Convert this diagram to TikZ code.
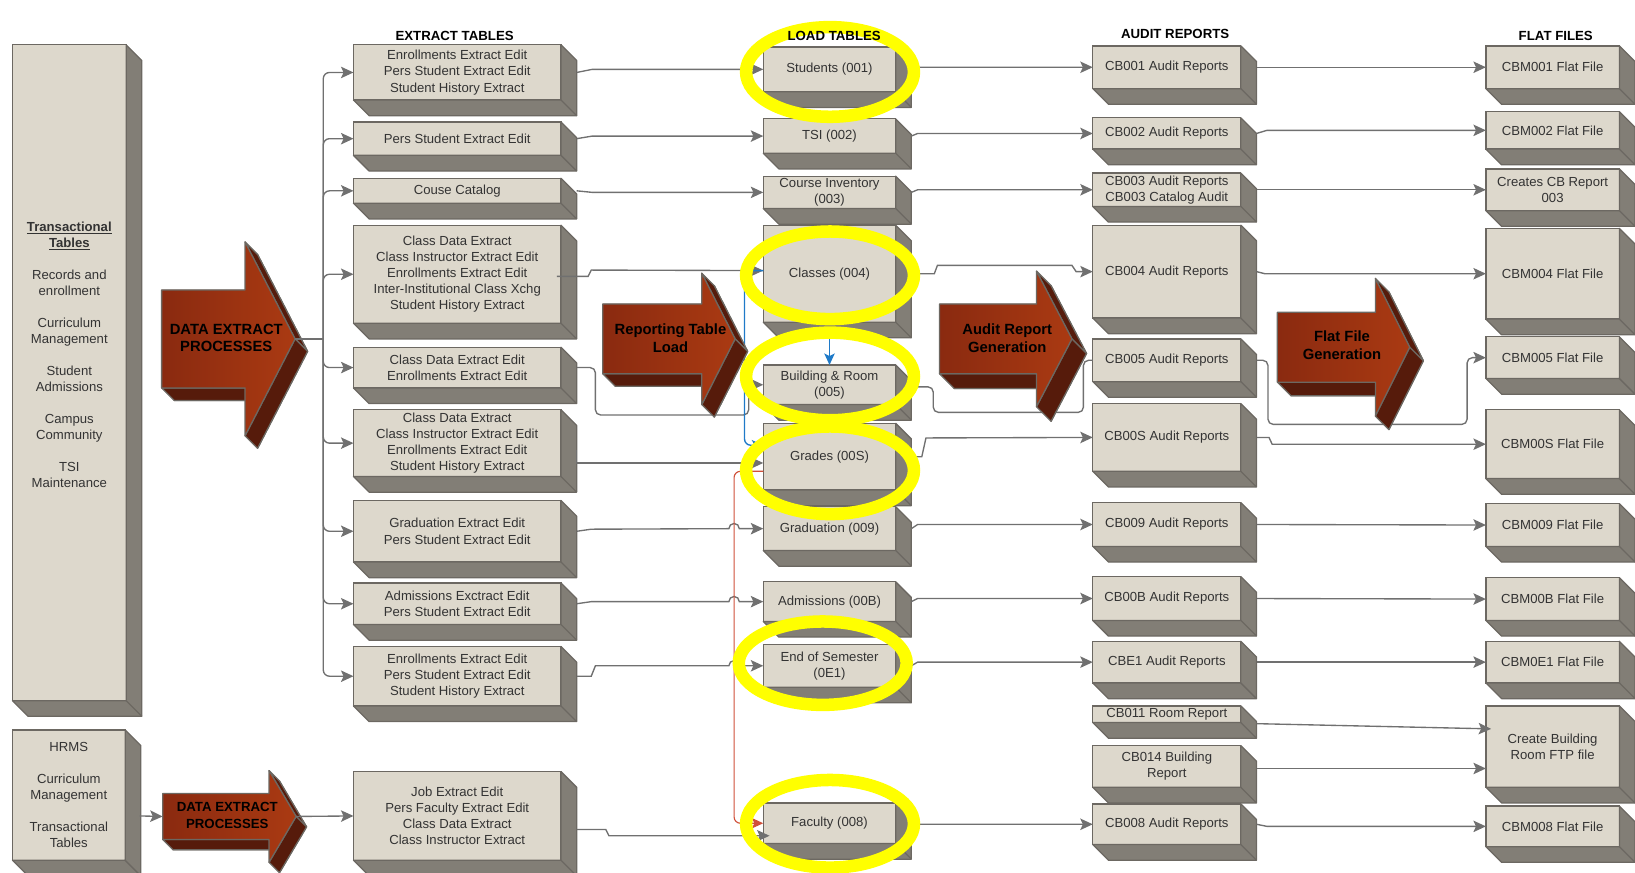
\documentclass[tikz,border=0pt]{standalone}
\usepackage{fontspec}
\setmainfont{Liberation Sans}
\usetikzlibrary{arrows.meta}
\definecolor{boxfront}{HTML}{DDD8CC}
\definecolor{boxside}{HTML}{827E76}
\definecolor{boxline}{HTML}{6C6862}
\definecolor{flowgray}{HTML}{707070}
\definecolor{flowred}{HTML}{D0503A}
\definecolor{flowblue}{HTML}{1F7AC8}
\definecolor{arrowdark}{HTML}{8A2A10}
\definecolor{arrowlight}{HTML}{AA3A12}
\definecolor{arrowside}{HTML}{561B0B}
\definecolor{ringyellow}{HTML}{FFFF00}
\newcommand{\boxfont}{\fontsize{12.6}{15.5}\selectfont}

\tikzset{
  tbl/.style={draw=boxline, fill=boxfront, line width=1.2pt, anchor=north west, outer sep=0pt, inner sep=1pt, align=center, text=black!80, font=\boxfont},
  tblside/.style={draw=boxline, fill=boxside, line width=1.2pt, line join=round},
  flow/.style={draw=flowgray, line width=1.3pt, -{Stealth[length=12pt,width=11pt,inset=2.5pt]}},
  flowplain/.style={draw=flowgray, line width=1.3pt},
  redflow/.style={draw=flowred, line width=1.1pt, -{Stealth[length=11pt,width=10pt,inset=2.5pt]}},
  blueflow/.style={draw=flowblue, line width=1.3pt, -{Stealth[length=11pt,width=10pt,inset=2.5pt]}},
  bigfront/.style={left color=arrowdark, right color=arrowlight, draw=boxline, line width=1.2pt, line join=round},
  bigside/.style={fill=arrowside, draw=boxline, line width=1.2pt, line join=round},
  bigtext/.style={font={\fontsize{14.2}{17}\selectfont\bfseries}, align=center},
  header/.style={font={\fontsize{12.7}{14}\selectfont\bfseries}},
  ring/.style={draw=ringyellow, line width=12pt}
}

\begin{document}
\begin{tikzpicture}[x=1pt, y=1pt]
\newcommand{\boxdepth}{15}
\newcommand{\tablebox}[6]{%
  \node[tbl, minimum width=#4pt, minimum height=#5pt] (#1) at (#2,#3) {#6};
  \filldraw[tblside] (#1.north east) -- ++(\boxdepth,-\boxdepth) -- ([shift={(\boxdepth,-\boxdepth)}]#1.south east) -- ([shift={(\boxdepth,-\boxdepth)}]#1.south west) -- (#1.south west) -- (#1.south east) -- cycle;
  \draw[tblside] (#1.south east) -- ++(\boxdepth,-\boxdepth);
}
\newcommand{\procarrow}[8]{%
  \begin{scope}[shift={(#2,#3)}]
    \coordinate (#1-in) at (0,0);
    \coordinate (#1-tip) at (#4+#6,0);
    \begin{scope}[shift={(#8,-#8)}]
      \filldraw[bigside] (0,#5) -- (#4,#5) -- (#4,#7) -- (#4+#6,0) -- (#4,-#7) -- (#4,-#5) -- (0,-#5) -- cycle;
    \end{scope}
    \filldraw[bigside] (0,-#5) -- (#4,-#5) -- (#4+#8,-#5-#8) -- (#8,-#5-#8) -- cycle;
    \filldraw[bigside] (#4,#7) -- (#4+#6,0) -- (#4+#6+#8,-#8) -- (#4+#8,#7-#8) -- cycle;
    \filldraw[bigside] (#4+#6,0) -- (#4,-#7) -- (#4+#8,-#7-#8) -- (#4+#6+#8,-#8) -- cycle;
    \filldraw[bigfront] (0,#5) -- (#4,#5) -- (#4,#7) -- (#4+#6,0) -- (#4,-#7) -- (#4,-#5) -- (0,-#5) -- cycle;
  \end{scope}
}
\useasboundingbox (0,0) rectangle (1568,-837);

% sources
\tablebox{src}{12}{-43}{109}{629}{}
\node[align=center, font=\boxfont, text=black!80] (srctext) at (66.5,-340) {\textbf{\underline{Transactional}}\\\textbf{\underline{Tables}}\\[15pt]Records and\\enrollment\\[15pt]Curriculum\\Management\\[15pt]Student\\Admissions\\[15pt]Campus\\Community\\[15pt]TSI\\Maintenance};
\tablebox{hrms}{12}{-700}{108}{125}{HRMS\\[15pt]Curriculum\\Management\\[15pt]Transactional\\Tables}

% extract tables
\tablebox{e1}{339}{-43}{199}{53}{Enrollments Extract Edit\\Pers Student Extract Edit\\Student History Extract}
\tablebox{e2}{339}{-117}{199}{32}{Pers Student Extract Edit}
\tablebox{e3}{339}{-171}{199}{24}{Couse Catalog}
\tablebox{e4}{339}{-216}{199}{94}{Class Data Extract\\Class Instructor Extract Edit\\Enrollments Extract Edit\\Inter-Institutional Class Xchg\\Student History Extract}
\tablebox{e5}{339}{-333}{199}{39}{Class Data Extract Edit\\Enrollments Extract Edit}
\tablebox{e6}{339}{-393}{199}{64}{Class Data Extract\\Class Instructor Extract Edit\\Enrollments Extract Edit\\Student History Extract}
\tablebox{e7}{339}{-480}{199}{59}{Graduation Extract Edit\\Pers Student Extract Edit}
\tablebox{e8}{339}{-559}{199}{40}{Admissions Exctract Edit\\Pers Student Extract Edit}
\tablebox{e9}{339}{-620}{199}{57}{Enrollments Extract Edit\\Pers Student Extract Edit\\Student History Extract}
\tablebox{e10}{339}{-740}{199}{85}{Job Extract Edit\\Pers Faculty Extract Edit\\Class Data Extract\\Class Instructor Extract}

% load tables
\tablebox{l1}{732}{-45}{127}{43}{Students (001)}
\tablebox{l2}{732}{-114}{127}{33}{TSI (002)}
\tablebox{l3}{732}{-169}{127}{31}{Course Inventory\\(003)}
\tablebox{l4}{732}{-216}{127}{93}{Classes (004)}
\tablebox{l5}{732}{-350}{127}{38}{Building \& Room\\(005)}
\tablebox{l7}{732}{-486}{127}{42}{Graduation (009)}
\tablebox{l6}{732}{-406}{127}{64}{Grades (00S)}
\tablebox{l8}{732}{-558}{127}{38}{Admissions (00B)}
\tablebox{l9}{732}{-618}{127}{41}{End of Semester\\(0E1)}
\tablebox{l10}{732}{-770}{127}{39}{Faculty (008)}

% audit reports
\tablebox{a1}{1048}{-44}{142}{41}{CB001 Audit Reports}
\tablebox{a2}{1048}{-113}{142}{30}{CB002 Audit Reports}
\tablebox{a3}{1048}{-166}{142}{32}{CB003 Audit Reports\\CB003 Catalog Audit}
\tablebox{a4}{1048}{-216}{142}{89}{CB004 Audit Reports}
\tablebox{a5}{1048}{-325}{142}{41}{CB005 Audit Reports}
\tablebox{a6}{1048}{-387}{142}{65}{CB00S Audit Reports}
\tablebox{a7}{1048}{-482}{142}{42}{CB009 Audit Reports}
\tablebox{a8}{1048}{-553}{142}{42}{CB00B Audit Reports}
\tablebox{a9}{1048}{-615}{142}{40}{CBE1 Audit Reports}
\tablebox{a10}{1048}{-677}{142}{16}{CB011 Room Report}
\tablebox{a11}{1048}{-715}{142}{40}{CB014 Building\\Report}
\tablebox{a12}{1048}{-771}{142}{39}{CB008 Audit Reports}

% flat files
\tablebox{f1}{1425}{-44}{128}{41}{CBM001 Flat File}
\tablebox{f2}{1425}{-107}{128}{36}{CBM002 Flat File}
\tablebox{f3}{1425}{-162}{128}{40}{Creates CB Report\\003}
\tablebox{f4}{1425}{-219}{128}{87}{CBM004 Flat File}
\tablebox{f5}{1425}{-323}{128}{40}{CBM005 Flat File}
\tablebox{f6}{1425}{-393}{128}{66}{CBM00S Flat File}
\tablebox{f7}{1425}{-483}{128}{41}{CBM009 Flat File}
\tablebox{f8}{1425}{-554}{128}{41}{CBM00B Flat File}
\tablebox{f9}{1425}{-615}{128}{40}{CBM0E1 Flat File}
\tablebox{f10}{1425}{-677}{128}{78}{Create Building\\Room FTP file}
\tablebox{f11}{1425}{-773}{128}{39}{CBM008 Flat File}

% extract -> load
\draw[flow] ([xshift=15pt]e1.east) -- ++(15,3) -- (l1.west);
\draw[flow] ([xshift=15pt]e2.east) -- ++(15,2.5) -- (l2.west);
\draw[flow] ([xshift=15pt]e3.east) -- ++(15,-1.5) -- (l3.west);
\draw[flow] ([xshift=-4pt,yshift=-2pt]e4.east) -- ++(30,0) -- ++(3,6) -- ([yshift=3pt]l4.west);
\draw[flow, rounded corners=5pt] ([xshift=15pt]e5.east) -- ++(18,0) |- ([xshift=-14pt,yshift=-29pt]l5.west) -- ([xshift=-14pt]l5.west) [sharp corners] -- (l5.west);
\draw[flow] ([xshift=15pt,yshift=-7pt]e6.east) |- ([yshift=-6pt]l6.west);
\draw[flow] ([xshift=15pt]e7.east) -- ++(14,2) -- ([xshift=-33pt]l7.west) arc[start angle=180, end angle=0, radius=5pt] -- (l7.west);
\draw[flow] ([xshift=15pt]e8.east) -- ++(14,2) -- ([xshift=-33pt]l8.west) arc[start angle=180, end angle=0, radius=5pt] -- (l8.west);
\draw[flow] ([xshift=15pt]e9.east) -- ++(14,0) -- ++(4,10) -- ([xshift=-33pt]l9.west) arc[start angle=180, end angle=0, radius=5pt] -- (l9.west);
\draw[flow] ([xshift=15pt,yshift=-13pt]e10.east) -- ++(28,0) -- ++(3,-6) -- ([xshift=6pt,yshift=-12pt]l10.west);
\draw[redflow, rounded corners=6pt] ([yshift=-14pt]l6.west) -- ++(-28,0) |- (l10.west);
\draw[blueflow, rounded corners=6pt] ([yshift=3pt]l4.west) -- ++(-18,0) |- ([yshift=11pt]l6.west);
\draw[blueflow] ([yshift=-14pt]l4.south) -- (l5.north);

% load -> audit
\draw[flow] ([xshift=15pt]l1.east) -- ++(6,2) -- (a1.west);
\draw[flow] ([xshift=15pt]l2.east) -- ++(6,2.5) -- (a2.west);
\draw[flow] ([xshift=15pt]l3.east) -- ++(6,2.5) -- (a3.west);
\draw[flow] ([xshift=15pt]l4.east) -- ++(22,0) -- ++(3,8) -- ([xshift=-20pt,yshift=6pt]a4.west) -- ([xshift=-16pt]a4.west) -- (a4.west);
\draw[flowplain, rounded corners=5pt] ([xshift=15pt,yshift=-2pt]l5.east) -- ++(21,0) |- ([xshift=-9pt,yshift=-50pt]a5.west) -- ([xshift=-9pt]a5.west) -- (a5.west);
\draw[flow] ([xshift=15pt]l6.east) -- ++(10,0) -- ++(4,18) -- (a6.west);
\draw[flow] ([xshift=15pt]l7.east) -- ++(6,4) -- (a7.west);
\draw[flow] ([xshift=15pt]l8.east) -- ++(6,3) -- (a8.west);
\draw[flow] ([xshift=15pt]l9.east) -- ++(6,3.5) -- (a9.west);
\draw[flow] ([xshift=15pt]l10.east) -- ++(6,-1) -- (a12.west);

% audit -> flat
\draw[flow] ([xshift=15pt]a1.east) -- (f1.west);
\draw[flow] ([xshift=15pt]a2.east) -- ++(10,3) -- (f2.west);
\draw[flow] ([xshift=15pt]a3.east) -- (f3.west);
\draw[flow] ([xshift=15pt]a4.east) -- ++(8,-2) -- (f4.west);
\draw[flow, rounded corners=5pt] ([xshift=15pt]a5.east) -- ++(11,0) |- ([xshift=-18pt,yshift=-64pt]f5.west) -- ([xshift=-18pt]f5.west) [sharp corners] -- (f5.west);
\draw[flow] ([xshift=15pt]a6.east) -- ++(12,0) -- ++(3,-6.5) -- (f6.west);
\draw[flow] ([xshift=15pt]a7.east) -- (f7.west);
\draw[flow] ([xshift=15pt]a8.east) -- (f8.west);
\draw[flow] ([xshift=15pt]a9.east) -- (f9.west);
\draw[flow] ([xshift=15pt,yshift=-9pt]a10.east) -- ([xshift=5pt,yshift=17pt]f10.west);
\draw[flow] ([xshift=15pt,yshift=-2pt]a11.east) -- ([yshift=-21pt]f10.west);
\draw[flow] ([xshift=15pt]a12.east) -- ++(10,-2) -- (f11.west);

% process arrows
\procarrow{extractproc}{155}{-325}{80}{47}{48}{93}{12}
\procarrow{loadproc}{578}{-325}{95}{33.5}{32}{63}{12}
\procarrow{auditproc}{901}{-325}{93}{33.5}{34}{65}{14}
\procarrow{flatproc}{1225}{-333}{94}{33.5}{33}{66}{13}
\procarrow{hrmsproc}{156}{-783}{102}{22}{26}{44}{10}
\node[bigtext] (extractproc) at (217,-324) {DATA EXTRACT\\PROCESSES};
\node[bigtext] (loadproc) at (643,-324) {Reporting Table\\Load};
\node[bigtext] (auditproc) at (966,-324) {Audit Report\\Generation};
\node[bigtext] (flatproc) at (1287,-331) {Flat File\\Generation};
\node[bigtext, font={\fontsize{12.7}{16}\selectfont\bfseries}] (hrmsproc) at (218,-782) {DATA EXTRACT\\PROCESSES};

% fan out to the extract tables
\coordinate (busjoin) at (310,-325);
\draw[flowplain] (extractproc-tip) -- (busjoin);
\foreach \i in {1,...,9}
  \draw[flow, rounded corners=6pt] (busjoin) |- (e\i.west);
\draw[flow] ([xshift=14pt,yshift=-20pt]hrms.east) -- (hrmsproc-in);
\draw[flow] (hrmsproc-tip) -- (e10.west);

% highlight rings
\foreach \rx/\ry/\rr in {796/69/43, 796/264/42, 796/361/42, 796/451/42, 789/636/40, 796/790/42}
  \draw[ring] (\rx,-\ry) ellipse [x radius=80.5pt, y radius=\rr pt];

% column headers
\node[header] (hdrextract) at (436,-34) {EXTRACT TABLES};
\node[header] (hdrload) at (800,-34) {LOAD TABLES};
\node[header] (hdraudit) at (1127,-33) {AUDIT REPORTS};
\node[header] (hdrflat) at (1492,-34) {FLAT FILES};
\end{tikzpicture}
\end{document}
